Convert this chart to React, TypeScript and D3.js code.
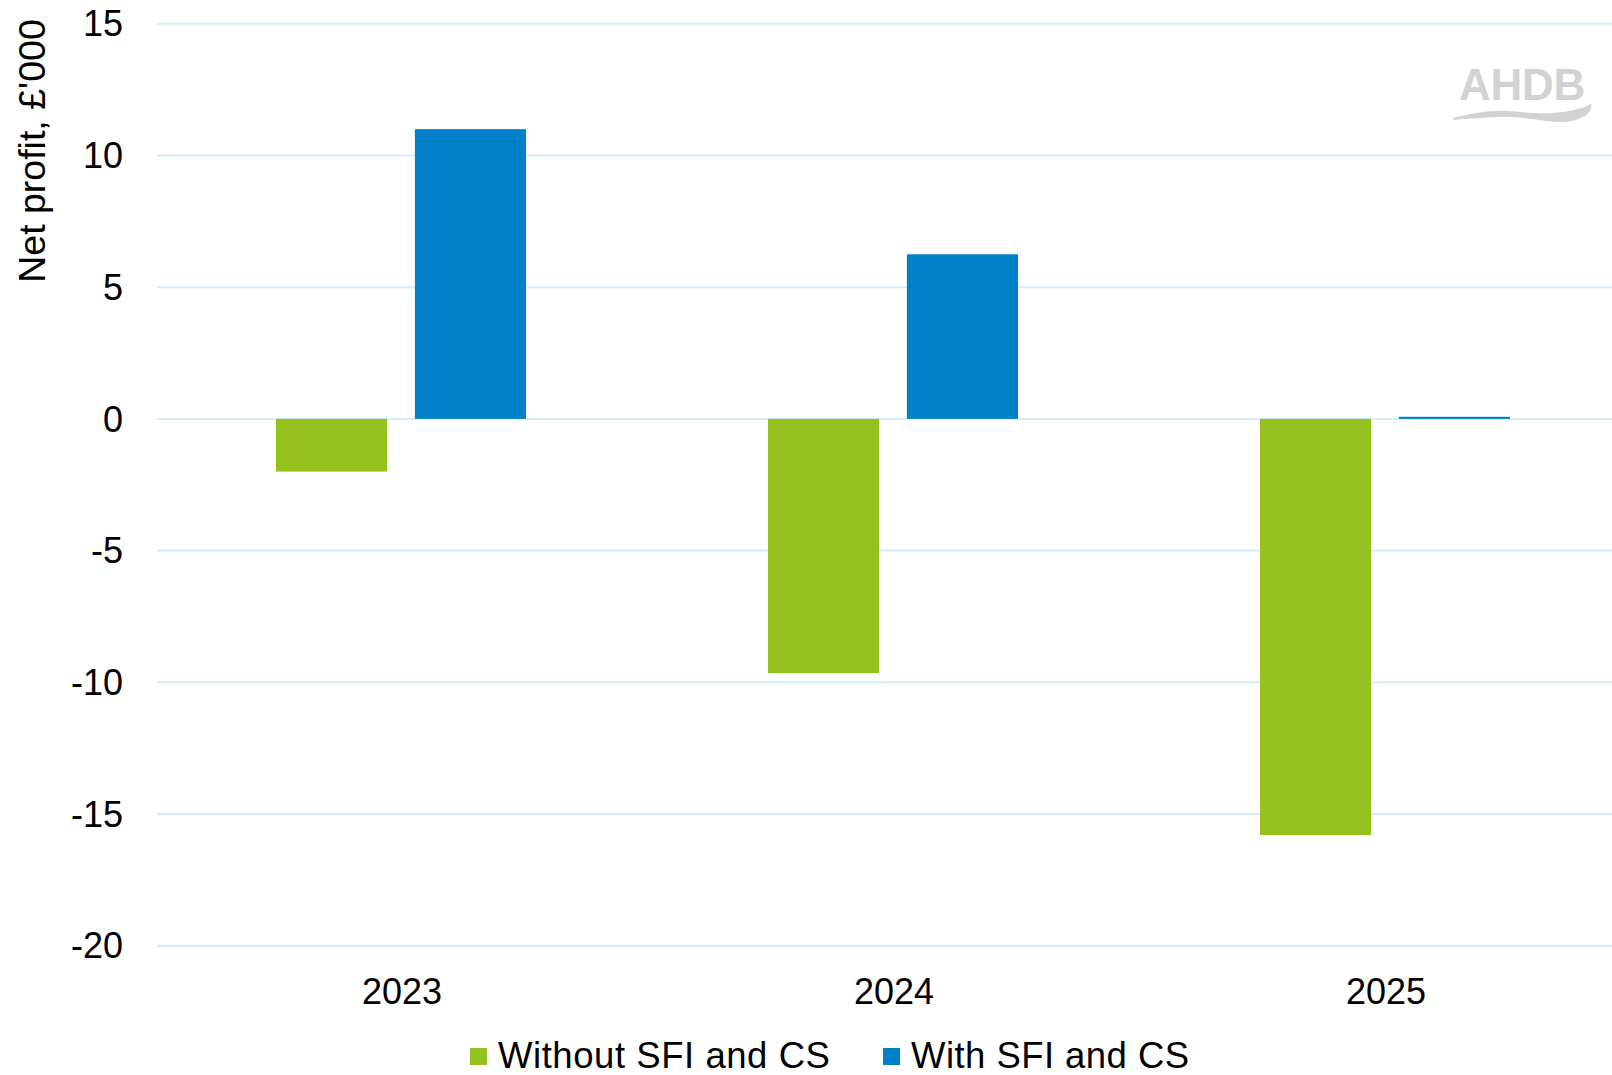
import React from 'react';
import * as d3 from 'd3';

// Farm net profit, £'000, by year
const categories = ['2023', '2024', '2025'];
const seriesNames = ['Without SFI and CS', 'With SFI and CS'];
const withoutSfiCs = [-2.0, -9.65, -15.8];
const withSfiCs = [11.0, 6.25, 0.08];
const yTickValues = [15, 10, 5, 0, -5, -10, -15, -20];
const yTitle = "Net profit, £'000";

const seriesColors = ['#95C11F', '#0080C9'];
const gridColor = '#D4EEFA';
const FONT = '"Liberation Sans", Arial, Helvetica, sans-serif';

const W = 1612;
const H = 1075;

export default function App() {
  const y = d3.scaleLinear().domain([-20, 15]).range([945.7, 23.8]);
  const x0 = d3.scaleBand<string>().domain(categories).range([155, 1631]);
  const half = 125;
  const x1 = d3.scaleBand<string>().domain(seriesNames).range([-half, half]).paddingInner(0.2);
  const seriesValues = [withoutSfiCs, withSfiCs];

  const gridLeft = 157;
  const gridRight = W;

  // AHDB logo swoosh
  const swoosh =
    'M1453,118 C1470,114 1490,110 1507,111 C1525,112 1538,114 1552,113 C1568,112 1582,109 1591,104 ' +
    'C1593,110 1588,116 1576,120 C1566,123 1556,122 1546,121 C1532,119 1520,117 1505,117 C1485,117 1468,119 1453,120 Z';

  return (
    <svg
      width={W}
      height={H}
      viewBox={`0 0 ${W} ${H}`}
      style={{ position: 'absolute', left: 0, top: 0, background: '#fff' }}
      fontFamily={FONT}
    >
      <rect x={0} y={0} width={W} height={H} fill="#fff" />

      {/* gridlines */}
      {yTickValues.map((t) => (
        <line
          key={`g${t}`}
          x1={gridLeft}
          x2={gridRight}
          y1={y(t)}
          y2={y(t)}
          stroke={gridColor}
          strokeWidth={2}
        />
      ))}

      {/* y tick labels */}
      {yTickValues.map((t) => (
        <text
          key={`t${t}`}
          x={123}
          y={y(t)}
          dy="0.35em"
          textAnchor="end"
          fontSize={36}
          fill="#000"
        >
          {t}
        </text>
      ))}

      {/* y axis title */}
      <text
        transform={`translate(45,${151}) rotate(-90)`}
        textAnchor="middle"
        fontSize={37.5}
        fill="#000"
      >
        {yTitle}
      </text>

      {/* bars */}
      {categories.map((c, ci) => {
        const cx = (x0(c) ?? 0) + x0.bandwidth() / 2;
        return seriesNames.map((s, si) => {
          const v = seriesValues[si][ci];
          const top = Math.min(y(v), y(0));
          const h = Math.abs(y(v) - y(0));
          return (
            <rect
              key={`${c}-${s}`}
              x={cx + (x1(s) ?? 0)}
              y={top}
              width={x1.bandwidth()}
              height={h}
              fill={seriesColors[si]}
            />
          );
        });
      })}

      {/* x category labels */}
      {categories.map((c) => (
        <text
          key={`x${c}`}
          x={(x0(c) ?? 0) + x0.bandwidth() / 2 + 1}
          y={1004}
          textAnchor="middle"
          fontSize={36}
          fill="#000"
        >
          {c}
        </text>
      ))}

      {/* legend */}
      <g>
        <rect x={470} y={1048} width={17} height={17} fill={seriesColors[0]} />
        <text x={498} y={1068} fontSize={36.5} letterSpacing={0.55} fill="#000">
          {seriesNames[0]}
        </text>
        <rect x={883} y={1048} width={17} height={17} fill={seriesColors[1]} />
        <text x={911} y={1068} fontSize={36.5} letterSpacing={0.45} fill="#000">
          {seriesNames[1]}
        </text>
      </g>

      {/* AHDB logo */}
      <g fill="#D2D2D2">
        <text x={1459} y={100} fontSize={44} fontWeight="bold" letterSpacing={-0.3}>
          AHDB
        </text>
        <path d={swoosh} />
      </g>
    </svg>
  );
}
